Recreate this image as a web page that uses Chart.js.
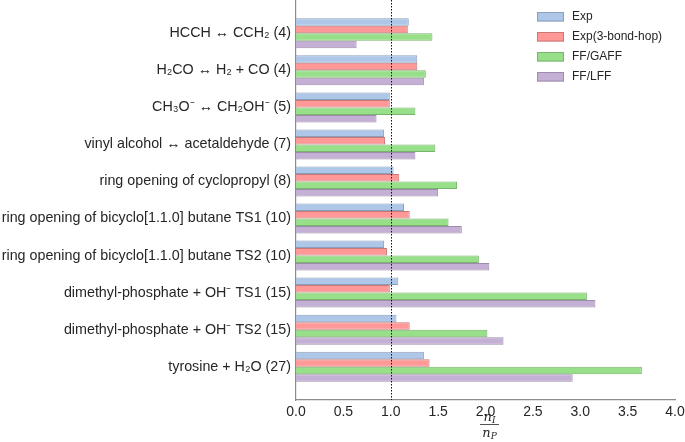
<!DOCTYPE html>
<html>
<head>
<meta charset="utf-8">
<script src="https://cdn.jsdelivr.net/npm/chart.js@4/dist/chart.umd.min.js"></script>
<style>
  html, body { margin: 0; padding: 0; background: #fff; }
  #wrap { width: 685px; height: 442px; }
</style>
</head>
<body>
<div id="wrap"><canvas id="chart" width="685" height="442"></canvas></div>
<script>
// reactions (number of atoms in brackets)
const categories = [
  'HCCH \u2194 CCH\u2082 (4)',
  'H\u2082CO \u2194 H\u2082 + CO (4)',
  'CH\u2083O\u207B \u2194 CH\u2082OH\u207B (5)',
  'vinyl alcohol \u2194 acetaldehyde (7)',
  'ring opening of cyclopropyl (8)',
  'ring opening of bicyclo[1.1.0] butane TS1 (10)',
  'ring opening of bicyclo[1.1.0] butane TS2 (10)',
  'dimethyl-phosphate + OH\u207B TS1 (15)',
  'dimethyl-phosphate + OH\u207B TS2 (15)',
  'tyrosine + H\u2082O (27)'
];
const seriesNames = ['Exp', 'Exp(3-bond-hop)', 'FF/GAFF', 'FF/LFF'];
const expValues      = [1.19, 1.28, 0.99, 0.93, 1.03, 1.14, 0.93, 1.08, 1.06, 1.35];
const exp3Values     = [1.18, 1.28, 0.99, 0.94, 1.09, 1.20, 0.96, 0.99, 1.20, 1.41];
const gaffValues     = [1.44, 1.37, 1.26, 1.47, 1.70, 1.61, 1.93, 3.07, 2.02, 3.65];
const lffValues      = [0.64, 1.35, 0.85, 1.26, 1.50, 1.75, 2.04, 3.16, 2.19, 2.92];
const xTicks = [0, 0.5, 1.0, 1.5, 2.0, 2.5, 3.0, 3.5, 4.0];
const refValue = 1.0;

const fills = ['#aec7e8', '#ff9896', '#98df8a', '#c5b0d5'];
const edges = ['#8a9fbb', '#c77877', '#79b36e', '#9d8caa'];
const textColor = '#262626';
const spineColor = '#8c8c8c';
const font = 'Liberation Sans';

const allSeries = [expValues, exp3Values, gaffValues, lffValues];

const datasets = allSeries.map((vals, s) => ({
  label: seriesNames[s],
  data: vals.map((v, i) => ({ x: v, y: i })),
  backgroundColor: fills[s],
  borderColor: edges[s],
  borderWidth: 1,
  borderSkipped: 'left',
  barPercentage: 1.0,
  categoryPercentage: 0.81
}));

// dotted reference line, legend and n_I / n_P axis label
const extras = {
  id: 'extras',
  afterDatasetsDraw(chart) {
    const { ctx, chartArea, scales } = chart;
    const x = Math.round(scales.x.getPixelForValue(refValue)) + 0.5;
    ctx.save();
    ctx.strokeStyle = '#111';
    ctx.lineWidth = 1;
    ctx.setLineDash([1.5, 1.5]);
    ctx.beginPath();
    ctx.moveTo(x, chartArea.top);
    ctx.lineTo(x, chartArea.bottom);
    ctx.stroke();
    ctx.restore();
  },
  afterDraw(chart) {
    const { ctx, chartArea, scales } = chart;
    ctx.save();
    // legend
    const lx = chartArea.right - 138;
    ctx.font = '12px "' + font + '"';
    ctx.textBaseline = 'middle';
    seriesNames.forEach((name, i) => {
      const y = 12 + i * 20;
      ctx.fillStyle = fills[i];
      ctx.fillRect(lx, y, 27, 9.5);
      ctx.strokeStyle = edges[i];
      ctx.lineWidth = 1;
      ctx.strokeRect(lx + 0.5, y + 0.5, 26, 8.5);
      ctx.fillStyle = textColor;
      ctx.fillText(name, lx + 35, y + 5);
    });
    // fraction label
    const cx = scales.x.getPixelForValue(2) + 4;
    const top = chartArea.bottom;
    ctx.fillStyle = textColor;
    ctx.strokeStyle = textColor;
    ctx.textBaseline = 'alphabetic';
    const frac = (sub, base) => {
      ctx.font = 'italic 13px "DejaVu Serif"';
      const wn = ctx.measureText('n').width;
      ctx.font = 'italic 9px "DejaVu Serif"';
      const ws = ctx.measureText(sub).width;
      const x0 = cx - (wn + ws) / 2;
      ctx.font = 'italic 13px "DejaVu Serif"';
      ctx.fillText('n', x0, base);
      ctx.font = 'italic 9px "DejaVu Serif"';
      ctx.fillText(sub, x0 + wn, base + 2);
    };
    frac('I', top + 21);
    ctx.lineWidth = 0.8;
    ctx.beginPath();
    ctx.moveTo(cx - 9.5, top + 24.5);
    ctx.lineTo(cx + 9.5, top + 24.5);
    ctx.stroke();
    frac('P', top + 37);
    ctx.restore();
  }
};

new Chart(document.getElementById('chart'), {
  type: 'bar',
  data: { datasets: datasets },
  options: {
    indexAxis: 'y',
    responsive: false,
    animation: false,
    devicePixelRatio: 1,
    layout: { padding: 0 },
    plugins: {
      legend: { display: false },
      tooltip: { enabled: false }
    },
    scales: {
      x: {
        type: 'linear',
        min: 0,
        max: 4,
        grid: { display: false, drawTicks: false, tickLength: 0 },
        border: { display: true, color: spineColor, width: 1.2 },
        afterBuildTicks: axis => { axis.ticks = xTicks.map(v => ({ value: v })); },
        ticks: {
          color: textColor,
          font: { family: font, size: 14 },
          padding: 4,
          maxRotation: 0,
          callback: v => Number(v).toFixed(1)
        },
        afterFit: axis => { axis.height = 42; axis.paddingRight = 10; }
      },
      y: {
        type: 'linear',
        reverse: true,
        min: -0.9,
        max: categories.length - 0.1,
        offset: false,
        grid: { display: false, drawTicks: false, tickLength: 0 },
        border: { display: true, color: spineColor, width: 1.2 },
        afterBuildTicks: axis => { axis.ticks = categories.map((c, i) => ({ value: i })); },
        ticks: {
          color: textColor,
          font: { family: font, size: 14.3 },
          padding: 5,
          callback: v => categories[v] || ''
        },
        afterFit: axis => { axis.width = 296; axis.paddingTop = 0; axis.paddingBottom = 0; }
      }
    }
  },
  plugins: [extras]
});
</script>
</body>
</html>
